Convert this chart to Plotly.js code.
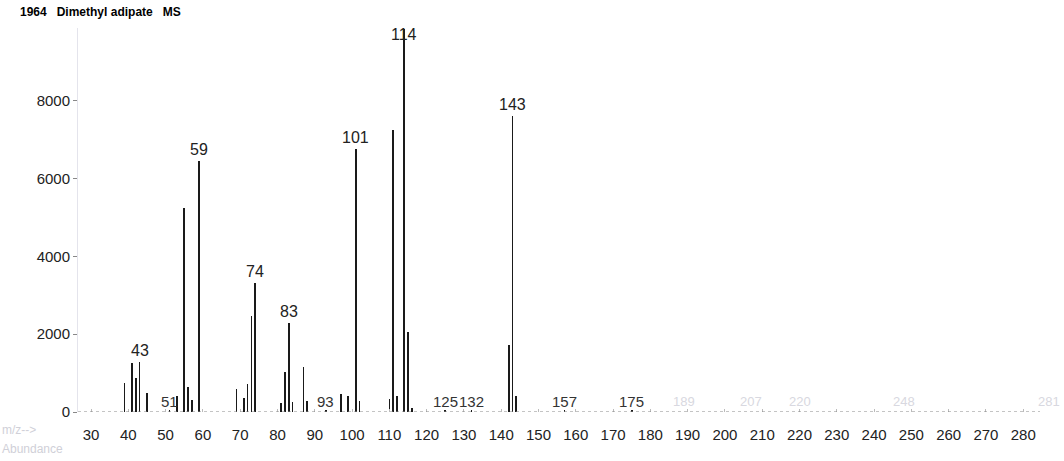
<!DOCTYPE html>
<html><head><meta charset="utf-8">
<script src="https://cdn.plot.ly/plotly-3.0.1.min.js"></script>
<style>html,body{margin:0;padding:0;background:#fff}#chart{width:1064px;height:461px}</style>
</head><body><div id="chart"></div>
<script>
// m/z values and abundances
const mz =    [39, 41, 42, 43, 45, 51, 53, 55, 56, 57, 59, 69, 71, 72, 73, 74, 81, 82, 83, 84, 87, 88, 93, 97, 99, 101, 102, 110, 111, 112, 114, 115, 116, 125, 132, 142, 143, 144, 157, 175];
const abund = [750,1270,870,1290,490, 40, 400,5250,650,310,6450,590,360,720,2470,3320,230,1020,2300,270,1150,280, 40, 460,400,6770,290, 330,7250,400,9850,2060,100, 40, 40,1720,7600,400, 40, 40];
// labelled peaks
const bigLabels = [43, 59, 74, 83, 101, 114, 143];
const smallLabels = [51, 93, 125, 132, 157, 175];
const fadedLabels = [189, 207, 220, 248];
const xTicks = [30,40,50,60,70,80,90,100,110,120,130,140,150,160,170,180,190,200,210,220,230,240,250,260,270,280];
const yTicks = [0, 2000, 4000, 6000, 8000];

const font = "Liberation Sans, Arial, sans-serif";
const trace = {
  type: 'bar', x: mz, y: abund, width: 0.45,
  marker: {color: '#1a1a1a', line: {width: 0}},
  hoverinfo: 'x+y'
};
const ann = [];
bigLabels.forEach(m => {
  const i = mz.indexOf(m);
  const top = m === 114;
  ann.push({x: m, y: abund[i], xref: 'x', yref: 'y', text: String(m), showarrow: false,
    yanchor: top ? 'middle' : 'bottom', yshift: top ? -6 : 1,
    font: {family: font, size: 16, color: '#222'}});
});
smallLabels.forEach(m => {
  ann.push({x: m, y: 0, xref: 'x', yref: 'y', text: String(m), showarrow: false,
    yanchor: 'bottom', yshift: 0, font: {family: font, size: 15, color: '#333'}});
});
fadedLabels.forEach(m => {
  ann.push({x: m, y: 0, xref: 'x', yref: 'y', text: String(m), showarrow: false,
    yanchor: 'bottom', yshift: 1, font: {family: font, size: 13, color: '#d8d8e0'}});
});
ann.push({x: 1.0, y: 0, xref: 'paper', yref: 'y', text: '281', showarrow: false, xanchor: 'right',
  yanchor: 'bottom', yshift: 1, xshift: 22, font: {family: font, size: 13, color: '#d8d8e0'}});
ann.push({x: 0, y: 1, xref: 'paper', yref: 'paper', xshift: -60, yshift: 16, text: '<b>1964   Dimethyl adipate   MS</b>',
  showarrow: false, xanchor: 'left', yanchor: 'middle', font: {family: font, size: 12, color: '#000'}});
ann.push({x: 0, y: 0, xref: 'paper', yref: 'paper', xshift: -78, yshift: -18, text: 'm/z-->',
  showarrow: false, xanchor: 'left', yanchor: 'middle', font: {family: font, size: 12, color: '#d0d0d8'}});
ann.push({x: 0, y: 0, xref: 'paper', yref: 'paper', xshift: -78, yshift: -37, text: 'Abundance',
  showarrow: false, xanchor: 'left', yanchor: 'middle', font: {family: font, size: 12, color: '#d0d0d8'}});

const layout = {
  width: 1064, height: 461,
  margin: {l: 78, r: 24, t: 28, b: 49},
  paper_bgcolor: '#fff', plot_bgcolor: '#fff',
  showlegend: false, bargap: 0,
  xaxis: {range: [26.5, 284.5], tickvals: xTicks, ticktext: xTicks.map(String),
    showgrid: false, zeroline: false, showline: false,
    ticks: 'inside', ticklen: 3, tickcolor: '#bbb', ticklabelstandoff: 12,
    tickfont: {family: font, size: 15, color: '#222'}},
  yaxis: {range: [0, 9875], tickvals: yTicks, ticktext: yTicks.map(String),
    showgrid: false, zeroline: false, showline: true, linecolor: '#e4e4ec', linewidth: 1,
    ticks: 'outside', ticklen: 4, tickcolor: '#888',
    tickfont: {family: font, size: 15, color: '#222'}},
  shapes: [{type: 'line', xref: 'paper', yref: 'y', x0: 0, x1: 1, y0: 0, y1: 0,
    line: {color: '#888', width: 1, dash: 'dot'}}],
  annotations: ann
};
Plotly.newPlot('chart', [trace], layout, {displayModeBar: false, staticPlot: true});
</script></body></html>
